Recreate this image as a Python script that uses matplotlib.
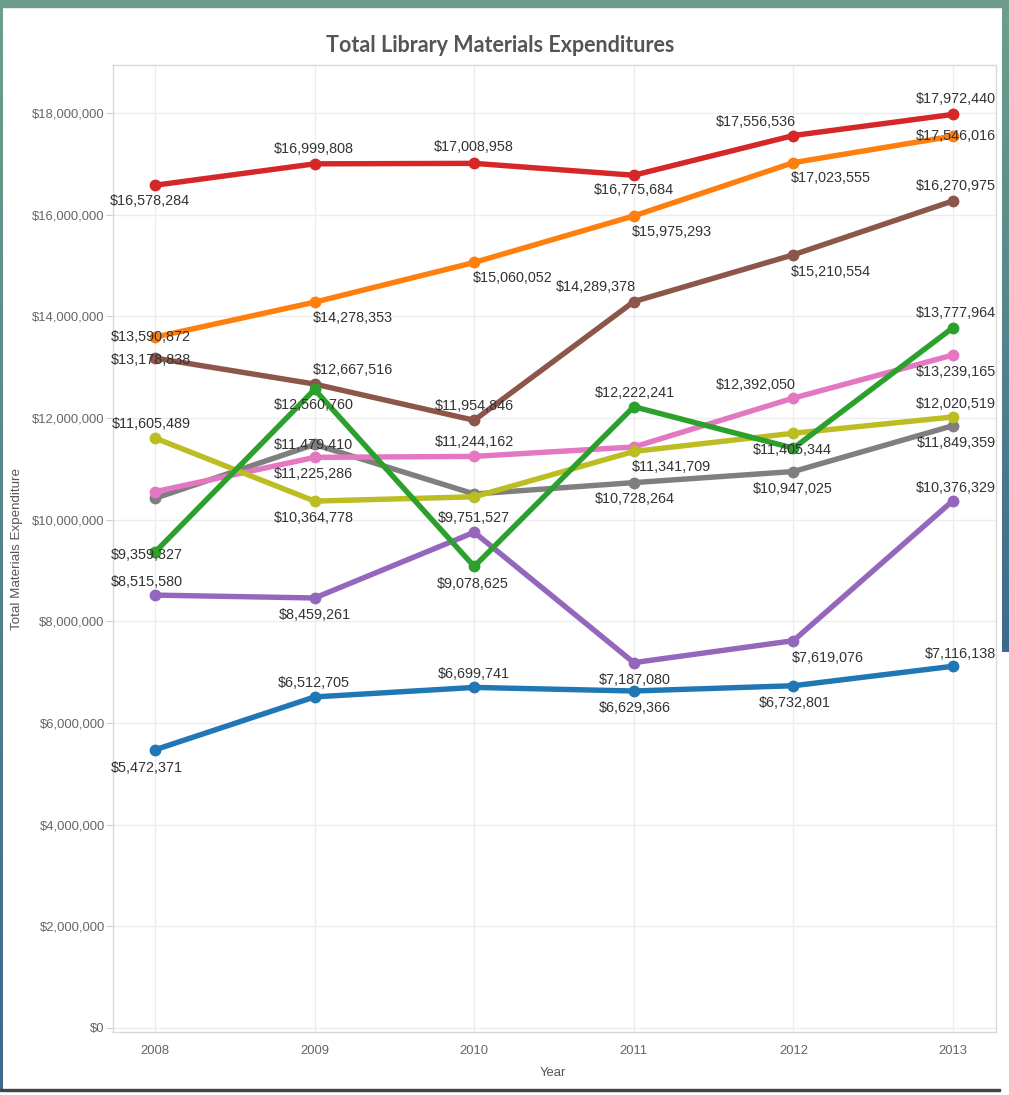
import numpy as np
import matplotlib
matplotlib.use("Agg")
import matplotlib.pyplot as plt
from matplotlib.colors import LinearSegmentedColormap
from matplotlib.ticker import FuncFormatter


years = [2008, 2009, 2010, 2011, 2012, 2013]

red_values = [16578284, 16999808, 17008958, 16775684, 17556536, 17972440]
orange_values = [13590872, 14278353, 15060052, 15975293, 17023555, 17546016]
brown_values = [13178838, 12667516, 11954846, 14289378, 15210554, 16270975]
green_values = [9359327, 12560760, 9078625, 12222241, 11405344, 13777964]
pink_values = [10550000, 11225286, 11244162, 11430000, 12392050, 13239165]
gray_values = [10420000, 11479410, 10505000, 10728264, 10947025, 11849359]
olive_values = [11605489, 10364778, 10450000, 11341709, 11700000, 12020519]
purple_values = [8515580, 8459261, 9751527, 7187080, 7619076, 10376329]
blue_values = [5472371, 6512705, 6699741, 6629366, 6732801, 7116138]

# which points carry a label in the original (the rest were hidden by Tableau)
red_shown = [True, True, True, True, True, True]
orange_shown = [True, True, True, True, True, True]
brown_shown = [True, True, True, True, True, True]
green_shown = [True, True, True, True, True, True]
pink_shown = [False, True, True, False, True, True]
gray_shown = [False, True, False, True, True, True]
olive_shown = [True, True, False, True, False, True]
purple_shown = [True, True, True, True, True, True]
blue_shown = [True, True, True, True, True, True]

y_ticks = [0, 2000000, 4000000, 6000000, 8000000, 10000000,
           12000000, 14000000, 16000000, 18000000]

# label offsets in pixels (dx right, dy down) from each point
label_offsets = {
    "red": [(-5, 16), (-1, -15), (0, -16), (0, 15), (-38, -14), (3, -15)],
    "orange": [(-4, 0), (38, 16), (38, 16), (38, 16), (37, 15), (3, 0)],
    "brown": [(-4, 2), (38, -14), (0, -14), (-38, -15), (37, 17), (3, -15)],
    "green": [(-8, 3), (-1, 16), (-1, 18), (1, -14), (-1, 2), (3, -15)],
    "pink": [(0, 0), (-1, 17), (0, -14), (0, 0), (-38, -13), (3, 17)],
    "gray": [(0, 0), (-1, 1), (0, 0), (1, 16), (-1, 17), (3, 17)],
    "olive": [(-4, -14), (-1, 17), (0, 0), (38, 16), (0, 0), (3, -13)],
    "purple": [(-8, -13), (0, 17), (0, -14), (1, 17), (34, 17), (3, -13)],
    "blue": [(-8, 18), (-1, -14), (0, -13), (1, 17), (1, 17), (7, -12)],
}

series = [
    ("gray", "#7f7f7f", gray_values, gray_shown),
    ("pink", "#e377c2", pink_values, pink_shown),
    ("olive", "#bcbd22", olive_values, olive_shown),
    ("purple", "#9467bd", purple_values, purple_shown),
    ("blue", "#1f77b4", blue_values, blue_shown),
    ("brown", "#8c564b", brown_values, brown_shown),
    ("orange", "#ff7f0e", orange_values, orange_shown),
    ("red", "#d62728", red_values, red_shown),
    ("green", "#2ca02c", green_values, green_shown),
]


def dollars(v, pos=None):
    return f"${v:,.0f}"


def plot_expenditures(file_path):
    W, H = 1009, 1095
    fig = plt.figure(figsize=(W / 100, H / 100), dpi=100)
    fig.patch.set_facecolor("white")

    # page frame from the slide screenshot
    fig.patches.append(plt.Rectangle((0, 1 - 7 / H), 1, 7 / H, transform=fig.transFigure,
                                     color="#6e9e8b", zorder=0))
    grad = LinearSegmentedColormap.from_list("frame", ["#6e9e8b", "#3b6a8e"])
    side = fig.add_axes([1002 / W, 1 - 652 / H, 7 / W, 645 / H])
    side.imshow(np.linspace(0, 1, 100).reshape(-1, 1), aspect="auto", cmap=grad)
    side.axis("off")
    left = fig.add_axes([0, 1 - 1090 / H, 2.5 / W, 1083 / H])
    left.imshow(np.linspace(0, 1, 100).reshape(-1, 1), aspect="auto", cmap=grad)
    left.axis("off")
    fig.patches.append(plt.Rectangle((0, 1 - 1091 / H), 1000 / W, 2.5 / H, transform=fig.transFigure,
                                     color="#444444", zorder=0))

    ax = fig.add_axes([113 / W, 1 - 1032 / H, 883 / W, 967 / H])

    for name, color, values, shown in series:
        ax.plot(years, values, color=color, linewidth=3.9, marker="o", markersize=7.5,
                solid_capstyle="round", solid_joinstyle="round", zorder=3)
        for i, (x, v) in enumerate(zip(years, values)):
            if not shown[i]:
                continue
            dx, dy = label_offsets[name][i]
            ax.annotate(dollars(v), (x, v), xytext=(dx, -dy), textcoords="offset pixels",
                        ha="center", va="center", fontsize=10.4, color="#333333",
                        family="Liberation Sans", zorder=5)

    ax.set_xlim(2007.737, 2013.269)
    ax.set_ylim(-79000, 18944000)
    ax.set_xticks(years)
    ax.set_yticks(y_ticks)
    ax.yaxis.set_major_formatter(FuncFormatter(dollars))
    for lbl in ax.get_xticklabels() + ax.get_yticklabels():
        lbl.set_family("Liberation Sans")
        lbl.set_fontsize(9.4)
        lbl.set_color("#666666")
    ax.tick_params(axis="y", length=5, color="#cccccc", pad=1)
    ax.tick_params(axis="x", length=0, pad=9)

    ax.grid(True, color="#ededed", linewidth=1)
    ax.set_axisbelow(True)
    for s in ax.spines.values():
        s.set_color("#d9d9d9")
        s.set_linewidth(1)

    ax.set_xlabel("Year", family="Liberation Sans", fontsize=9.4, color="#555555")
    ax.xaxis.set_label_coords(0.498, -0.036)
    ax.set_ylabel("Total Materials Expenditure", family="Liberation Sans", fontsize=9.6,
                  color="#555555")
    ax.yaxis.set_label_coords(-0.102, 0.5)

    fig.text(500 / W, 1 - 46 / H, "Total Library Materials Expenditures", ha="center",
             va="center", fontsize=15.5, fontweight="bold", color="#555555", family="Lato")

    plt.savefig(file_path, dpi=100)
    return plt


plot_expenditures("out.png")
